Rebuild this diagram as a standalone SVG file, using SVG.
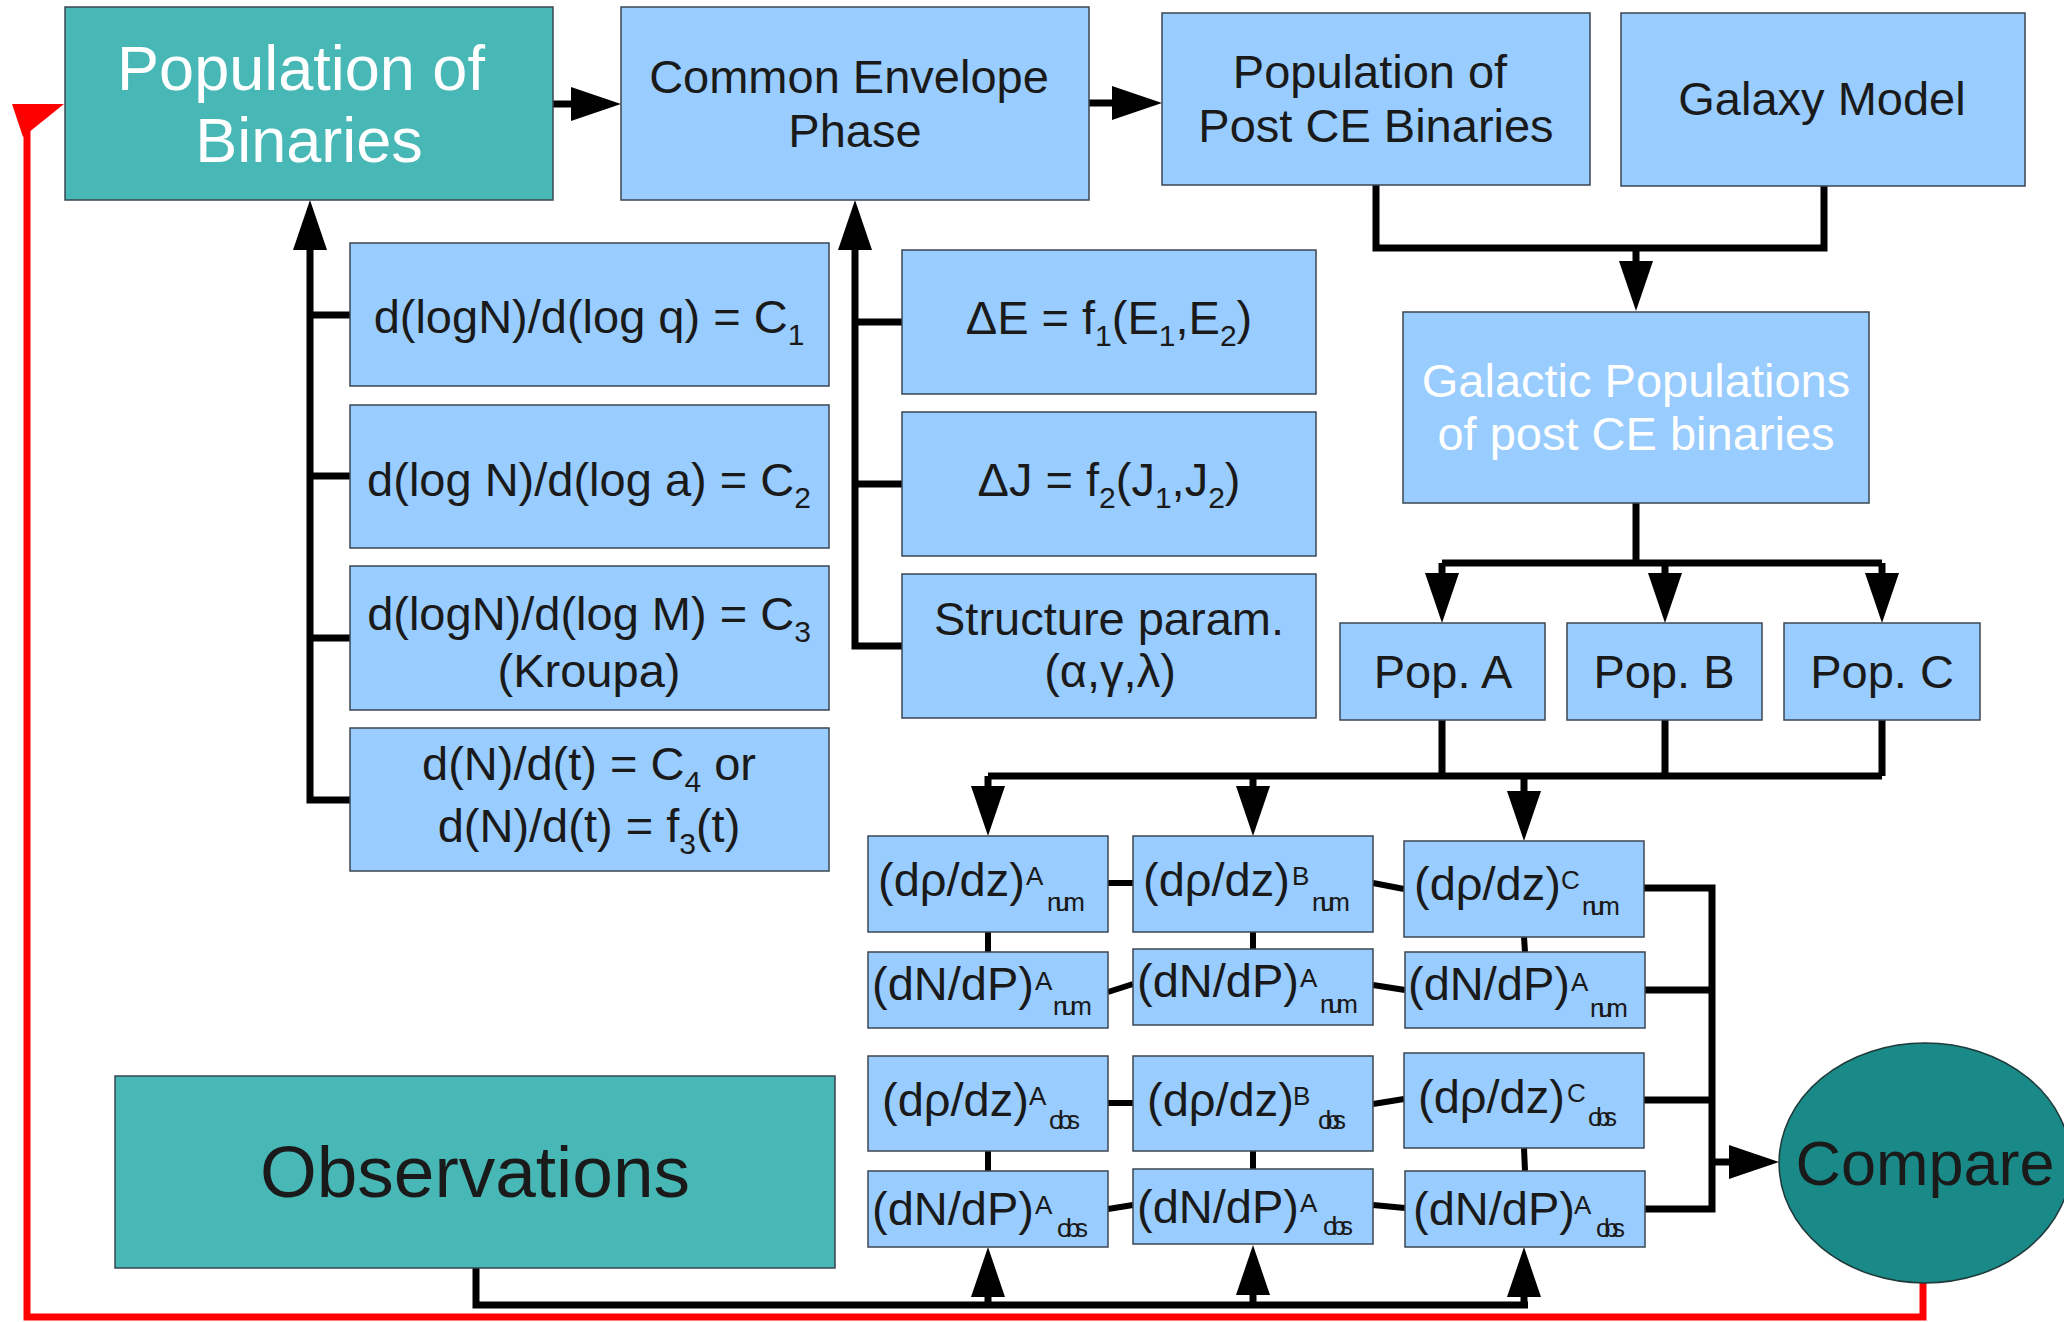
<svg xmlns="http://www.w3.org/2000/svg" width="2064" height="1322" viewBox="0 0 2064 1322">
<style>
text{font-family:"Liberation Sans",Arial,sans-serif;fill:#1a1a1a}
.box{fill:#99CCFF;stroke:#3b4652;stroke-width:1.5}
.teal{fill:#48B8B7;stroke:#3b4652;stroke-width:1.5}
.t47{font-size:47px}
.mid{text-anchor:middle}
.sup{font-size:26px}
.sub{font-size:26px}
.sb{font-size:30px}
.w{fill:#ffffff}
.con{fill:none;stroke:#000;stroke-width:7;stroke-linejoin:miter}
.lnk{fill:none;stroke:#000;stroke-width:6}
.arr{marker-end:url(#ah)}
</style>
<defs>
<marker id="ah" markerUnits="userSpaceOnUse" markerWidth="50" markerHeight="34" viewBox="0 0 50 34" refX="6" refY="17" orient="auto">
<path d="M0,0 L50,17 L0,34 z" fill="#000"/>
</marker>
</defs>
<rect width="2064" height="1322" fill="#ffffff"/>

<g id="connectors">
<path class="con arr" d="M553,104 H577"/>
<path class="con arr" d="M1089,103 H1118"/>
<path class="con" d="M1376,185 V248 H1824 V186"/>
<path class="con arr" d="M1636,248 V267"/>
<path class="con" d="M1636,503 V563"/>
<path class="con" d="M1442,563 H1882"/>
<path class="con arr" d="M1442,563 V579"/>
<path class="con arr" d="M1665,563 V579"/>
<path class="con arr" d="M1882,563 V579"/>
<path class="con" d="M1442,720 V776 M1665,720 V776 M1882,720 V776"/>
<path class="con" d="M988,776 H1882"/>
<path class="con arr" d="M988,776 V792"/>
<path class="con arr" d="M1253,776 V792"/>
<path class="con arr" d="M1524,776 V797"/>
<path class="con arr" d="M350,800 H310 V244"/>
<path class="con" d="M310,315 H350 M310,476 H350 M310,638 H350"/>
<path class="con arr" d="M902,646 H855 V244"/>
<path class="con" d="M855,322 H902 M855,484 H902"/>
<path class="lnk" d="M1108,883 H1133 M1373,883 L1404,889 M1108,992 L1133,984 M1373,985 L1405,990 M1108,1103 H1133 M1373,1104 L1404,1099 M1108,1209 L1133,1205 M1373,1205 L1405,1208"/>
<path class="lnk" d="M988,932 V952 M988,1151 V1171 M1253,932 V949 M1253,1151 V1169 M1524,937 L1525,952 M1524,1148 L1525,1171"/>
<path class="con" d="M1644,888 H1712 M1645,990 H1712 M1644,1100 H1712 M1645,1209 H1712 M1712,884.5 V1212.5"/>
<path class="con arr" d="M1712,1162 H1735"/>
<path class="con" d="M476,1268 V1305 H1528"/>
<path class="con arr" d="M988,1305 V1291"/>
<path class="con arr" d="M1253,1305 V1289"/>
<path class="con arr" d="M1524,1305 V1291"/>
<path d="M1923,1283 V1317 H27 V125" fill="none" stroke="#ff0000" stroke-width="7"/>
<polygon points="12,104 64,104 23,137" fill="#ff0000"/>
</g>

<g id="n-pop-binaries">
<rect class="teal" x="65" y="7" width="488" height="193"/>
<text class="w mid" x="301" y="90" font-size="63">Population of</text>
<text class="w mid" x="309" y="162" font-size="63">Binaries</text>
</g>
<g id="n-common-envelope">
<rect class="box" x="621" y="7" width="468" height="193"/>
<text class="t47 mid" x="849" y="93">Common Envelope</text>
<text class="t47 mid" x="855" y="147">Phase</text>
</g>
<g id="n-post-ce">
<rect class="box" x="1162" y="13" width="428" height="172"/>
<text class="t47 mid" x="1370" y="88">Population of</text>
<text class="t47 mid" x="1376" y="142">Post CE Binaries</text>
</g>
<g id="n-galaxy">
<rect class="box" x="1621" y="13" width="404" height="173"/>
<text class="t47 mid" x="1822" y="115">Galaxy Model</text>
</g>
<g id="n-galactic">
<rect class="box" x="1403" y="312" width="466" height="191"/>
<text class="t47 mid w" x="1636" y="397">Galactic Populations</text>
<text class="t47 mid w" x="1636" y="450">of post CE binaries</text>
</g>
<g id="n-pop-a">
<rect class="box" x="1340" y="623" width="205" height="97"/>
<text class="t47 mid" x="1443" y="688">Pop. A</text>
</g>
<g id="n-pop-b">
<rect class="box" x="1567" y="623" width="195" height="97"/>
<text class="t47 mid" x="1664" y="688">Pop. B</text>
</g>
<g id="n-pop-c">
<rect class="box" x="1784" y="623" width="196" height="97"/>
<text class="t47 mid" x="1882" y="688">Pop. C</text>
</g>

<g id="n-q">
<rect class="box" x="350" y="243" width="479" height="143"/>
<text class="t47 mid" x="589" y="333">d(logN)/d(log q) = C<tspan class="sb" dy="12">1</tspan></text>
</g>
<g id="n-a">
<rect class="box" x="350" y="405" width="479" height="143"/>
<text class="t47 mid" x="589" y="496">d(log N)/d(log a) = C<tspan class="sb" dy="12">2</tspan></text>
</g>
<g id="n-m">
<rect class="box" x="350" y="566" width="479" height="144"/>
<text class="t47 mid" x="589" y="630">d(logN)/d(log M) = C<tspan class="sb" dy="12">3</tspan></text>
<text class="t47 mid" x="589" y="687">(Kroupa)</text>
</g>
<g id="n-t">
<rect class="box" x="350" y="728" width="479" height="143"/>
<text class="t47 mid" x="589" y="780">d(N)/d(t) = C<tspan class="sb" dy="12">4</tspan><tspan dy="-12"> or</tspan></text>
<text class="t47 mid" x="589" y="842">d(N)/d(t) = f<tspan class="sb" dy="12">3</tspan><tspan dy="-12">(t)</tspan></text>
</g>

<g id="n-de">
<rect class="box" x="902" y="250" width="414" height="144"/>
<text class="t47 mid" x="1109" y="334">ΔE = f<tspan class="sb" dy="12">1</tspan><tspan dy="-12">(E</tspan><tspan class="sb" dy="12">1</tspan><tspan dy="-12">,E</tspan><tspan class="sb" dy="12">2</tspan><tspan dy="-12">)</tspan></text>
</g>
<g id="n-dj">
<rect class="box" x="902" y="412" width="414" height="144"/>
<text class="t47 mid" x="1109" y="496">ΔJ = f<tspan class="sb" dy="12">2</tspan><tspan dy="-12">(J</tspan><tspan class="sb" dy="12">1</tspan><tspan dy="-12">,J</tspan><tspan class="sb" dy="12">2</tspan><tspan dy="-12">)</tspan></text>
</g>
<g id="n-struct">
<rect class="box" x="902" y="574" width="414" height="144"/>
<text class="t47 mid" x="1109" y="635">Structure param.</text>
<text class="t47 mid" x="1110" y="687">(α,γ,λ)</text>
</g>

<g id="n-r1a">
<rect class="box" x="868" y="836" width="240" height="96"/>
<text class="t47" x="878" y="896">(dρ/dz)</text>
<text class="sup" x="1026" y="885">A</text>
<text class="sub" x="1047" y="911" textLength="38">num</text>
</g>
<g id="n-r1b">
<rect class="box" x="1133" y="836" width="240" height="96"/>
<text class="t47" x="1143" y="896">(dρ/dz)</text>
<text class="sup" x="1292" y="885">B</text>
<text class="sub" x="1312" y="911" textLength="38">num</text>
</g>
<g id="n-r1c">
<rect class="box" x="1404" y="841" width="240" height="96"/>
<text class="t47" x="1414" y="900">(dρ/dz)</text>
<text class="sup" x="1561" y="889">C</text>
<text class="sub" x="1582" y="915" textLength="38">num</text>
</g>
<g id="n-r2a">
<rect class="box" x="868" y="952" width="240" height="76"/>
<text class="t47" x="872" y="1000">(dN/dP)</text>
<text class="sup" x="1035" y="990">A</text>
<text class="sub" x="1053" y="1015" textLength="39">num</text>
</g>
<g id="n-r2b">
<rect class="box" x="1133" y="949" width="240" height="76"/>
<text class="t47" x="1137" y="997">(dN/dP)</text>
<text class="sup" x="1300" y="987">A</text>
<text class="sub" x="1320" y="1013" textLength="38">num</text>
</g>
<g id="n-r2c">
<rect class="box" x="1405" y="952" width="240" height="76"/>
<text class="t47" x="1408" y="1000">(dN/dP)</text>
<text class="sup" x="1571" y="991">A</text>
<text class="sub" x="1590" y="1017" textLength="38">num</text>
</g>
<g id="n-r3a">
<rect class="box" x="868" y="1056" width="240" height="95"/>
<text class="t47" x="882" y="1116">(dρ/dz)</text>
<text class="sup" x="1029" y="1105">A</text>
<text class="sub" x="1049" y="1129" textLength="31">obs</text>
</g>
<g id="n-r3b">
<rect class="box" x="1133" y="1056" width="240" height="95"/>
<text class="t47" x="1147" y="1116">(dρ/dz)</text>
<text class="sup" x="1293" y="1105">B</text>
<text class="sub" x="1318" y="1129" textLength="28">obs</text>
</g>
<g id="n-r3c">
<rect class="box" x="1404" y="1053" width="240" height="95"/>
<text class="t47" x="1418" y="1113">(dρ/dz)</text>
<text class="sup" x="1567" y="1102">C</text>
<text class="sub" x="1588" y="1126" textLength="29">obs</text>
</g>
<g id="n-r4a">
<rect class="box" x="868" y="1171" width="240" height="76"/>
<text class="t47" x="872" y="1225">(dN/dP)</text>
<text class="sup" x="1035" y="1214">A</text>
<text class="sub" x="1057" y="1237" textLength="31">obs</text>
</g>
<g id="n-r4b">
<rect class="box" x="1133" y="1169" width="240" height="75"/>
<text class="t47" x="1137" y="1223">(dN/dP)</text>
<text class="sup" x="1300" y="1212">A</text>
<text class="sub" x="1323" y="1235" textLength="30">obs</text>
</g>
<g id="n-r4c">
<rect class="box" x="1405" y="1171" width="240" height="76"/>
<text class="t47" x="1413" y="1225">(dN/dP)</text>
<text class="sup" x="1574" y="1214">A</text>
<text class="sub" x="1596" y="1237" textLength="29">obs</text>
</g>

<g id="n-observations">
<rect class="teal" x="115" y="1076" width="720" height="192"/>
<text class="mid" x="475" y="1197" font-size="73">Observations</text>
</g>
<g id="n-compare">
<ellipse cx="1925" cy="1163" rx="146" ry="120" fill="#1A8A88" stroke="#1f3a3a" stroke-width="1.5"/>
<text class="mid" x="1925" y="1185" font-size="63">Compare</text>
</g>
</svg>
